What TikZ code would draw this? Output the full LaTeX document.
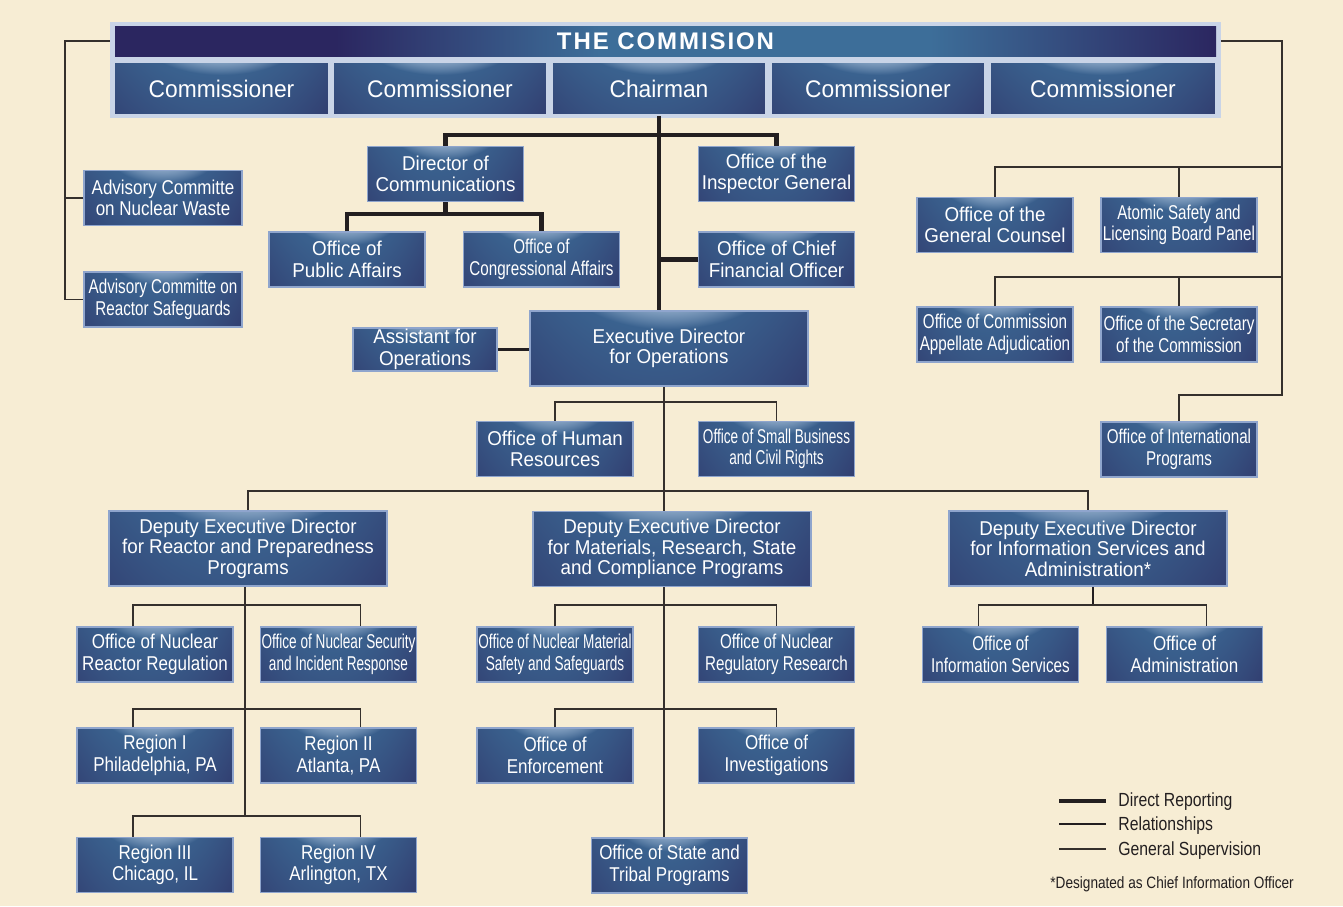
\documentclass[tikz,border=0pt]{standalone}
\usepackage{fontspec}
\setmainfont{Liberation Sans}
\newfontfamily\fnorm[FakeStretch=0.94]{Liberation Sans}
\newfontfamily\fmed[FakeStretch=0.85]{Liberation Sans}
\newfontfamily\fcond[FakeStretch=0.76]{Liberation Sans}
\newfontfamily\fxcond[FakeStretch=0.68]{Liberation Sans}
\newfontfamily\fseat[FakeStretch=0.95]{Liberation Sans}
\newfontfamily\ftitle[LetterSpace=8]{Liberation Sans}
\newfontfamily\flegend[FakeStretch=0.83]{Liberation Sans}

\definecolor{paper}{HTML}{F7EDD4}
\definecolor{navy}{HTML}{2B2660}
\definecolor{midblue}{HTML}{3D6E99}
\definecolor{boxedge}{HTML}{8FA5CD}
\definecolor{framec}{HTML}{C9D4E7}
\definecolor{ink}{HTML}{231F20}
\definecolor{rulec}{HTML}{35302C}

\pgfdeclarefunctionalshading{boxshade}{\pgfpoint{-50bp}{-50bp}}{\pgfpoint{50bp}{50bp}}{}{
  50 div exch 50 div exch
  1 index dup mul 1.15 mul
  1 index neg 1 add 0.22 mul add
  2 index 0.1 mul add
  dup 1 gt {pop 1} if
  dup 0 lt {pop 0} if
  2 index dup mul 0.15 div
  2 index 1 sub dup mul 0.55 div add
  neg 1 add
  dup 0 lt {pop 0} if
  1 index -0.07 mul 0.24 add
  dup 0.74 exch sub 2 index mul add
  2 index -0.28 mul 0.43 add
  dup 0.81 exch sub 3 index mul add
  3 index -0.24 mul 0.60 add
  dup 0.90 exch sub 4 index mul add
  7 3 roll pop pop pop pop
}
\pgfdeclarehorizontalshading{titleshade}{100bp}{color(0bp)=(navy); color(35bp)=(navy); color(47bp)=(midblue); color(62bp)=(midblue); color(75bp)=(navy); color(100bp)=(navy)}

\begin{document}
\begin{tikzpicture}
    [x=0.5pt, y=-0.5pt,
     box/.style={draw=boxedge, line width=0.75pt, shade, shading=boxshade, text=white, align=center, inner sep=0pt, font=\fnorm\fontsize{10}{10.8}\selectfont},
     office/.style={box, minimum width=78pt, minimum height=27.5pt},
     deputy/.style={box, minimum width=139pt, minimum height=37.5pt, font=\fnorm\fontsize{10}{10.3}\selectfont},
     seat/.style={box, draw=framec, minimum width=107pt, minimum height=26.5pt, font=\fseat\fontsize{12}{14}\selectfont},
     med/.style={font=\fmed\fontsize{10}{10.8}\selectfont},
     cond/.style={font=\fcond\fontsize{10}{10.8}\selectfont},
     xcond/.style={font=\fxcond\fontsize{10}{10.8}\selectfont},
     direct/.style={draw=ink, line width=2.4pt},
     relation/.style={draw=ink, line width=1.4pt},
     superv/.style={draw=rulec, line width=0.85pt},
     legend/.style={anchor=west, text=ink, inner sep=0pt, font=\flegend\fontsize{9.5}{11}\selectfont}]
    \fill[paper] (0,0) rectangle (1343,906);

    \node[fill=framec, minimum width=555.5pt, minimum height=48pt, inner sep=0pt] (Frame) at (665.5,70) {};
    \node[shade, shading=titleshade, minimum width=550.5pt, minimum height=15pt, inner sep=0pt, text=white, font=\ftitle\bfseries\fontsize{12}{14}\selectfont] (Title) at (665.5,41) {THE COMMISION};
    \node[seat] (Com1) at (221.5,88.5) {Commissioner};
    \node[seat] (Com2) at (440,88.5) {Commissioner};
    \node[seat] (Chair) at (659,88.5) {Chairman};
    \node[seat] (Com3) at (878,88.5) {Commissioner};
    \node[seat, minimum width=113pt] (Com4) at (1103,88.5) {Commissioner};

    \node[office, med, minimum width=79pt] (AdvNW) at (163,198) {Advisory Committe\\on Nuclear Waste};
    \node[office, cond, minimum width=79pt] (AdvRS) at (163,299.5) {Advisory Committe on\\Reactor Safeguards};

    \node[office] (DirComm) at (445.5,174) {Director of\\Communications};
    \node[office] (OIG) at (776.5,174) {Office of the\\Inspector General};
    \node[office] (PA) at (347,259.5) {Office of\\Public Affairs};
    \node[office, cond] (CA) at (541.5,259.5) {Office of\\Congressional Affairs};
    \node[office] (OCFO) at (776.5,259.5) {Office of Chief\\Financial Officer};
    \node[deputy] (EDO) at (669,348.5) {Executive Director\\for Operations};
    \node[office, minimum width=72pt, minimum height=21.5pt] (Assist) at (425,349.5) {Assistant for\\Operations};
    \node[office] (HR) at (555,449) {Office of Human\\Resources};
    \node[office, xcond] (SBCR) at (776.5,449) {Office of Small Business\\and Civil Rights};

    \node[office] (OGC) at (995,225) {Office of the\\General Counsel};
    \node[office, cond] (ASLBP) at (1179,225) {Atomic Safety and\\Licensing Board Panel};
    \node[office, cond] (OCAA) at (995,334.5) {Office of Commission\\Appellate Adjudication};
    \node[office, cond] (SECY) at (1179,334.5) {Office of the Secretary\\of the Commission};
    \node[office, cond] (OIP) at (1179,449.5) {Office of International\\Programs};

    \node[deputy] (DepR) at (248,548.5) {Deputy Executive Director\\for Reactor and Preparedness\\Programs};
    \node[deputy] (DepM) at (672,549) {Deputy Executive Director\\for Materials, Research, State\\and Compliance Programs};
    \node[deputy] (DepIS) at (1088,548.5) {Deputy Executive Director\\for Information Services and\\Administration*};

    \node[office, med] (NRR) at (155,654.5) {Office of Nuclear\\Reactor Regulation};
    \node[office, xcond] (NSIR) at (338.5,654.5) {Office of Nuclear Security\\and Incident Response};
    \node[office, xcond] (NMSS) at (555,654.5) {Office of Nuclear Material\\Safety and Safeguards};
    \node[office, cond] (RES) at (776.5,654.5) {Office of Nuclear\\Regulatory Research};
    \node[office, cond] (OIS) at (1000.5,654.5) {Office of\\Information Services};
    \node[office, med] (ADM) at (1184.5,654.5) {Office of\\Administration};
    \node[office, med] (RegI) at (155,755.5) {Region I\\Philadelphia, PA};
    \node[office, med] (RegII) at (338.5,755.5) {Region II\\Atlanta, PA};
    \node[office, med] (RegIII) at (155,865) {Region III\\Chicago, IL};
    \node[office, med] (RegIV) at (338.5,865) {Region IV\\Arlington, TX};
    \node[office, med] (OE) at (555,755.5) {Office of\\Enforcement};
    \node[office, med] (OI) at (776.5,755.5) {Office of\\Investigations};
    \node[office, med] (OSTP) at (669.5,865.5) {Office of State and\\Tribal Programs};

    % commission side branches
    \coordinate (lw) at (65,41);
    \coordinate (rw) at (1282,41);
    \coordinate (gB) at (1282,167);
    \coordinate (aB) at (1282,277);
    \coordinate (ipB) at (1282,395);
    \draw[superv] (Frame.west |- Title) -- (lw) |- (AdvRS.west);
    \draw[superv] (AdvNW.west) -- (AdvNW.west -| lw);
    \draw[superv] (Frame.east |- Title) -- (rw) -- (ipB) -| (OIP.north);
    \draw[superv] (gB) -| (OGC.north);
    \draw[superv] (ASLBP.north) -- (ASLBP.north |- gB);
    \draw[superv] (aB) -| (OCAA.north);
    \draw[superv] (SECY.north) -- (SECY.north |- aB);

    % chairman
    \coordinate (topsplit) at (659,135);
    \coordinate (commsplit) at (445.5,214);
    \draw[direct] (Chair.south) -- (EDO.north -| Chair.south);
    \draw[direct] (DirComm.north) |- (topsplit) -| (OIG.north);
    \draw[direct] (DirComm.south) -- (commsplit);
    \draw[direct] (PA.north) |- (commsplit) -| (CA.north);
    \draw[direct] (OCFO.west) -- (OCFO.west -| Chair.south);
    \draw[relation] (Assist.east) -- (EDO.west |- Assist.east);

    % operations
    \coordinate (opsplit) at (664,402);
    \coordinate (depsplit) at (664,491);
    \draw[superv] (EDO.south -| depsplit) -- (DepM.north -| depsplit);
    \draw[superv] (HR.north) |- (opsplit) -| (SBCR.north);
    \draw[superv] (DepR.north) |- (depsplit) -| (DepIS.north);

    \coordinate (reasplit) at (245,605);
    \coordinate (regsplit) at (245,709);
    \coordinate (regsplitb) at (245,816);
    \draw[superv] (DepR.south -| reasplit) -- (regsplitb);
    \draw[superv] ([xshift=-11pt]NRR.north) |- (reasplit) -| ([xshift=11pt]NSIR.north);
    \draw[superv] ([xshift=-11pt]RegI.north) |- (regsplit) -| ([xshift=11pt]RegII.north);
    \draw[superv] ([xshift=-11pt]RegIII.north) |- (regsplitb) -| ([xshift=11pt]RegIV.north);

    \coordinate (matsplit) at (664,605);
    \coordinate (enfsplit) at (664,709);
    \draw[superv] (DepM.south -| matsplit) -- (OSTP.north -| matsplit);
    \draw[superv] (NMSS.north) |- (matsplit) -| (RES.north);
    \draw[superv] (OE.north) |- (enfsplit) -| (OI.north);

    \coordinate (infsplit) at (1093,605);
    \draw[relation] (DepIS.south -| infsplit) -- (infsplit);
    \draw[superv] ([xshift=-11pt]OIS.north) |- (infsplit) -| ([xshift=11pt]ADM.north);

    % legend
    \draw[direct] (1059,801) -- (1106,801);
    \draw[relation] (1059,824) -- (1106,824);
    \draw[superv] (1059,849) -- (1106,849);
    \node[legend] (LgDirect) at (1118,802) {Direct Reporting};
    \node[legend] (LgRel) at (1118,826) {Relationships};
    \node[legend] (LgSup) at (1118,851) {General Supervision};
    \node[legend, font=\flegend\fontsize{8.2}{10}\selectfont] (Note) at (1050,884) {*Designated as Chief Information Officer};
\end{tikzpicture}
\end{document}
